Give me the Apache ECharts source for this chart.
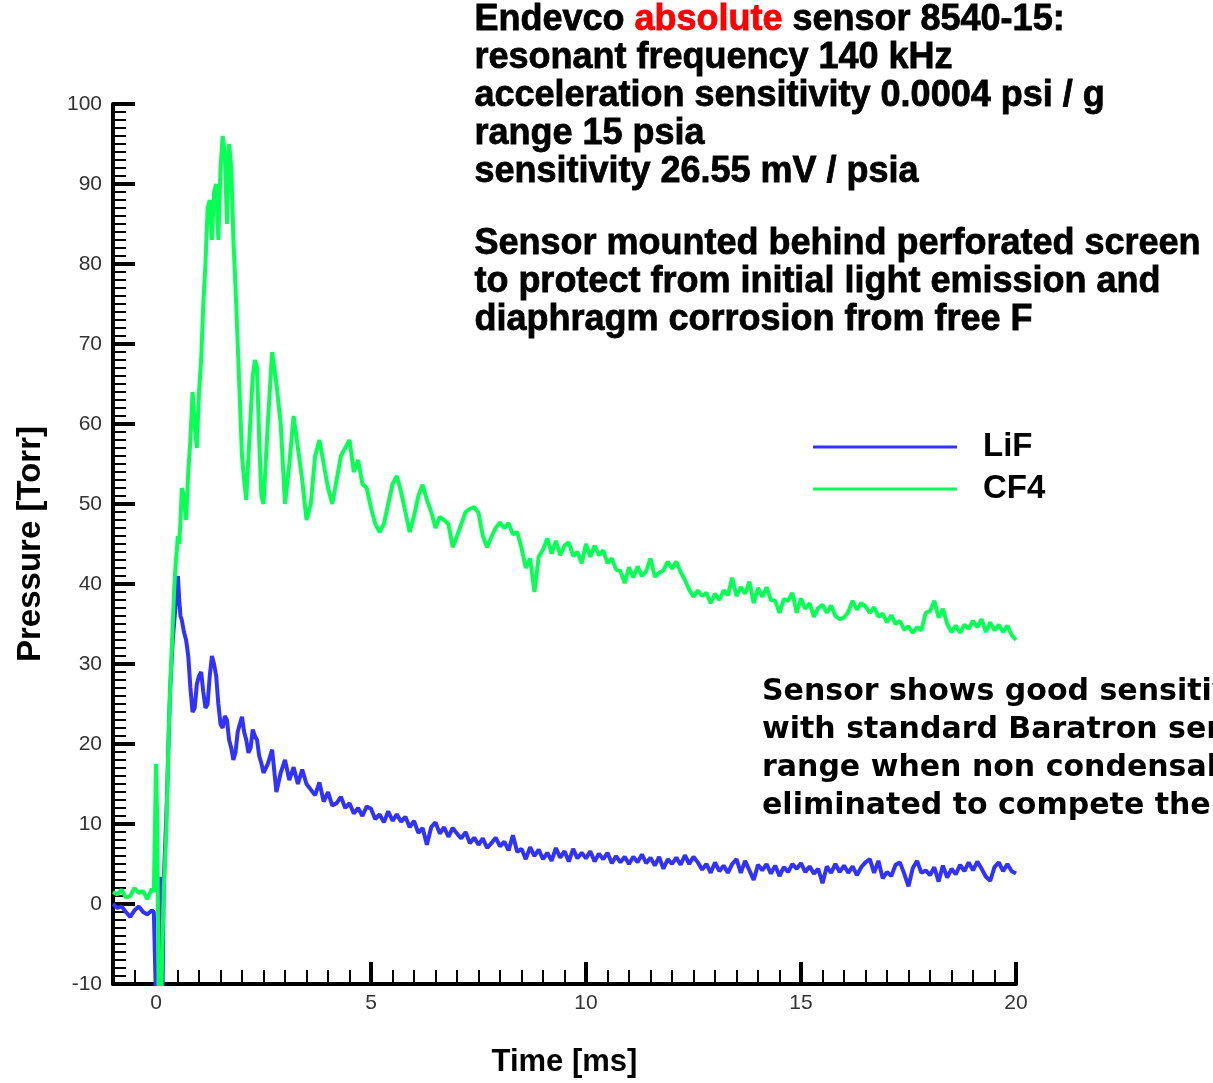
<!DOCTYPE html>
<html>
<head>
<meta charset="utf-8">
<title>Endevco 8540-15 pressure traces</title>
<script src="https://cdn.jsdelivr.net/npm/echarts@6/dist/echarts.min.js"></script>
<style>
  html, body { margin: 0; padding: 0; background: #fff; }
  #chart { width: 1213px; height: 1083px; }
</style>
</head>
<body>
<div id="chart"></div>
<script>
// time base [ms], shared by both traces (finer around the trigger)
const timeMs = [
  -1.0, -0.9, -0.8, -0.7, -0.6, -0.5, -0.4, -0.3, -0.2, -0.1,
  -0.05, 0, 0.03, 0.06, 0.09, 0.12, 0.15, 0.18, 0.21, 0.24, 0.27, 0.3, 0.33, 0.36, 0.39, 0.42, 0.45, 0.48, 0.51, 0.54, 0.57,
  0.6, 0.65, 0.7, 0.75, 0.8, 0.85, 0.9, 0.95, 1.0, 1.05, 1.1, 1.15, 1.2, 1.25, 1.3, 1.35, 1.4, 1.45, 1.5, 1.55,
  1.6, 1.65, 1.7, 1.75, 1.8, 1.85, 1.9, 1.95, 2.0, 2.05, 2.1, 2.15, 2.2, 2.25, 2.3, 2.35, 2.4, 2.45,
  2.5, 2.6, 2.7, 2.8, 2.9,
  3.0, 3.1, 3.2, 3.3, 3.4, 3.5, 3.6, 3.7, 3.8, 3.9,
  4.0, 4.1, 4.2, 4.3, 4.4, 4.5, 4.6, 4.7, 4.8, 4.9,
  5.0, 5.1, 5.2, 5.3, 5.4, 5.5, 5.6, 5.7, 5.8, 5.9,
  6.0, 6.1, 6.2, 6.3, 6.4, 6.5, 6.6, 6.7, 6.8, 6.9,
  7.0, 7.1, 7.2, 7.3, 7.4, 7.5, 7.6, 7.7, 7.8, 7.9,
  8.0, 8.1, 8.2, 8.3, 8.4, 8.5, 8.6, 8.7, 8.8, 8.9,
  9.0, 9.1, 9.2, 9.3, 9.4, 9.5, 9.6, 9.7, 9.8, 9.9,
  10.0, 10.1, 10.2, 10.3, 10.4, 10.5, 10.6, 10.7, 10.8, 10.9,
  11.0, 11.1, 11.2, 11.3, 11.4, 11.5, 11.6, 11.7, 11.8, 11.9,
  12.0, 12.1, 12.2, 12.3, 12.4, 12.5, 12.6, 12.7, 12.8, 12.9,
  13.0, 13.1, 13.2, 13.3, 13.4, 13.5, 13.6, 13.7, 13.8, 13.9,
  14.0, 14.1, 14.2, 14.3, 14.4, 14.5, 14.6, 14.7, 14.8, 14.9,
  15.0, 15.1, 15.2, 15.3, 15.4, 15.5, 15.6, 15.7, 15.8, 15.9,
  16.0, 16.1, 16.2, 16.3, 16.4, 16.5, 16.6, 16.7, 16.8, 16.9,
  17.0, 17.1, 17.2, 17.3, 17.4, 17.5, 17.6, 17.7, 17.8, 17.9,
  18.0, 18.1, 18.2, 18.3, 18.4, 18.5, 18.6, 18.7, 18.8, 18.9,
  19.0, 19.1, 19.2, 19.3, 19.4, 19.5, 19.6, 19.7, 19.8, 19.9,
  20.0
];

// LiF pressure [Torr]
const lifTorr = [
  0.0, -0.5, -0.3, -1.0, -1.6, -0.8, -0.3, -1.0, -1.3, -0.8,
  -1.0, -12, -12, -12, -12, 3.4, -12, 3, 7, 11, 16, 22, 27, 30, 33, 35, 37, 39, 41, 38, 36,
  35.5, 34, 33, 31, 27, 24, 24.5, 27.5, 28.5, 29, 26.5, 24.5, 25, 28.5, 31, 30, 28.5, 25, 22.5, 22,
  23.5, 23, 20.5, 19.5, 18, 19, 21.5, 22.5, 23.4, 21.5, 20.5, 18.9, 19.5, 21.8, 21, 20.5, 18.5, 17.6,
  16.4, 17.5, 19.3, 14, 16.4,
  18, 15.5, 17.1, 15.0, 16.8, 15.0, 14.3, 13.6, 15.2, 12.8,
  14.0, 12.3, 12.6, 13.4, 12.0, 12.6, 11.3, 12.0, 11.0, 12.2,
  11.9, 10.6, 11.2, 10.2, 11.6, 10.4, 11.2, 10.3, 10.9, 9.6,
  10.4, 8.9, 9.5, 7.4, 9.6, 10.2, 8.8, 9.6, 8.4, 9.5,
  8.8, 8.2, 9.0, 7.6, 8.3, 7.4, 8.2, 7.0, 7.6, 8.3,
  7.2, 7.8, 6.7, 8.6, 6.5, 6.9, 5.6, 7.1, 6.0, 6.8,
  5.6, 6.4, 5.4, 7.0, 5.8, 6.6, 5.3, 6.9, 5.7, 6.4,
  5.7, 6.6, 5.3, 6.3, 5.6, 6.4, 5.1, 6.0, 5.2, 5.9,
  5.0, 5.9, 5.2, 6.2, 5.1, 5.8, 4.8, 5.9, 4.4, 5.6,
  5.0, 5.8, 4.9, 6.1, 5.0, 5.9, 5.2, 4.3, 5.0, 3.9,
  5.2, 4.1, 4.8, 3.9, 5.0, 5.6, 3.9, 5.4, 4.2, 3.0,
  4.9, 4.2, 5.0, 3.8, 4.8, 3.5, 4.6, 4.0, 5.0, 4.4,
  5.1, 4.0, 4.7, 3.8, 4.4, 2.6, 4.7, 3.9, 5.0, 4.0,
  4.8, 3.9, 4.7, 3.6, 4.6, 5.2, 5.6, 3.9, 5.4, 3.2,
  4.0, 3.5, 4.9, 5.2, 3.8, 2.2, 4.5, 5.4, 3.9, 4.2,
  3.6, 4.6, 2.8, 4.8, 3.3, 4.4, 3.7, 4.9, 4.1, 5.2,
  4.2, 5.3, 4.4, 3.4, 2.9, 4.6, 5.2, 4.1, 5.0, 4.1,
  3.8
];

// CF4 pressure [Torr]
const cf4Torr = [
  1.5, 1.2, 1.8, 0.8, 1.0, 2.0, 1.4, 1.6, 0.6, 1.9,
  1.5, 17.5, 10, -12, -12, -12, -5, 2, 5, 9, 16, 22, 27, 31, 35, 39, 42, 44, 46, 45, 48,
  52, 51, 48, 54, 58, 64, 60, 57, 64, 68, 75, 80, 87, 88, 83, 89, 90, 83, 92, 96,
  94, 85, 95, 92, 83, 77, 70, 63, 56, 53, 50.5, 56, 61, 66, 68, 67, 58, 51,
  50, 60, 69, 65, 60,
  50, 55, 61, 57, 53, 48, 50, 56, 58, 55,
  52, 50, 53, 56, 57, 58, 54, 55.5, 52.5, 52,
  49.5, 47.5, 46.5, 47.5, 50, 52.5, 53.5, 51.5, 49, 46.5,
  48.5, 51, 52.4, 50.5, 49, 47, 48.4, 48, 47.5, 44.6,
  46, 47.5, 49, 49.4, 49.6, 48.9, 46, 44.6, 45.9, 47,
  47.7, 47.0, 47.6, 46.2, 46.5, 44.5, 42, 43.2, 39, 43.4,
  44.3, 45.7, 43.8, 45.4, 43.6, 44.8, 45.2, 43.5, 44.0, 42.6,
  45, 43.4, 44.8, 43.6, 44.2, 42.6, 43.2, 41.8, 41.6, 40.1,
  42.1, 40.8, 42.2, 41.0, 41.6, 43.2, 40.9, 41.4, 41.7, 42.8,
  41.9, 42.8, 41.5, 40.5, 39.3, 38.4, 39.2, 38.5, 38.9, 37.6,
  38.8, 38.0, 39.2, 38.6, 40.8, 38.5, 39.6, 38.8, 40.3, 37.6,
  39.5, 38.4, 39.6, 38.0, 37.9, 36.4, 38.1, 37.9, 38.9, 36.4,
  38.2, 36.9, 37.6, 35.9, 37.0, 37.4, 36.4, 37.3, 36.0, 35.6,
  35.8, 36.5, 37.9, 36.8, 37.6, 37.2, 36.4, 37.1, 35.9, 36.3,
  35.2, 36.1, 35.0, 35.4, 34.3, 34.7, 33.9, 34.6, 34.2, 36.4,
  36.6, 37.9, 35.8, 36.9, 35.0, 34.0, 34.8, 33.9, 34.9, 34.4,
  35.4, 34.6, 35.6, 34.0, 35.2, 34.2, 34.9, 34.0, 34.8, 33.6,
  33
];

const timeLabels = [0, 5, 10, 15, 20];
const seriesNames = ['LiF', 'CF4'];
const seriesColors = ['#3232ff', '#08ff55'];

const pairs = (vals) => timeMs.map((t, i) => [t, vals[i]]);

const chart = echarts.init(document.getElementById('chart'), null, { renderer: 'canvas' });

const labelFont = { fontFamily: 'Liberation Sans', fontSize: 21, color: '#333' };
const boldFont = { fontFamily: 'Liberation Sans', fontWeight: 'bold', color: '#000' };
// heavy caption text (bold plus a thin outline)
const heavy = (fill) => ({
  fontFamily: 'Liberation Sans', fontWeight: 'bold', fontSize: 36, lineHeight: 38,
  fill: fill, stroke: fill, lineWidth: 0.8
});

const option = {
  animation: false,
  backgroundColor: '#fff',
  grid: { left: 113, right: 197, top: 104, bottom: 99, containLabel: false },
  legend: {
    data: seriesNames,
    orient: 'vertical',
    left: 813,
    top: 426,
    padding: 0,
    itemGap: 0,
    itemWidth: 144,
    itemHeight: 3,
    icon: 'rect',
    textStyle: { ...boldFont, fontSize: 33, lineHeight: 42, padding: [0, 0, 0, 21] }
  },
  xAxis: [
    {
      type: 'value',
      min: -1,
      max: 20,
      interval: 0.5,
      name: 'Time [ms]',
      nameLocation: 'middle',
      nameGap: 63,
      nameTextStyle: { ...boldFont, fontSize: 31 },
      splitLine: { show: false },
      axisLine: { onZero: false, lineStyle: { color: '#000', width: 4 } },
      axisTick: { inside: true, length: 14, lineStyle: { color: '#000', width: 2 } },
      axisLabel: { ...labelFont, margin: 9, customValues: timeLabels }
    },
    {
      // long ticks at the labelled times
      type: 'value',
      min: -1,
      max: 20,
      position: 'bottom',
      splitLine: { show: false },
      axisLine: { show: false, onZero: false },
      axisLabel: { show: false },
      axisTick: { inside: true, length: 22, customValues: timeLabels, lineStyle: { color: '#000', width: 4 } }
    }
  ],
  yAxis: {
    type: 'value',
    min: -10,
    max: 100,
    interval: 10,
    name: 'Pressure [Torr]',
    nameLocation: 'middle',
    nameGap: 66,
    nameTextStyle: { ...boldFont, fontSize: 33 },
    splitLine: { show: false },
    axisLine: { onZero: false, lineStyle: { color: '#000', width: 4 } },
    axisTick: { inside: true, length: 22, lineStyle: { color: '#000', width: 4 } },
    minorTick: { show: true, splitNumber: 10, length: 13, lineStyle: { color: '#000', width: 2 } },
    axisLabel: { ...labelFont, margin: 11 }
  },
  series: [
    {
      name: seriesNames[0],
      type: 'line',
      data: pairs(lifTorr),
      showSymbol: false,
      clip: true,
      color: seriesColors[0],
      lineStyle: { width: 4, color: seriesColors[0] }
    },
    {
      name: seriesNames[1],
      type: 'line',
      data: pairs(cf4Torr),
      showSymbol: false,
      clip: true,
      color: seriesColors[1],
      lineStyle: { width: 4, color: seriesColors[1] }
    }
  ],
  graphic: [
    {
      type: 'text',
      left: 474,
      top: 1,
      style: {
        text: '{k|Endevco }{r|absolute}{k| sensor 8540-15:}\n' +
              '{k|resonant frequency 140 kHz}\n' +
              '{k|acceleration sensitivity 0.0004 psi / g}\n' +
              '{k|range 15 psia}\n' +
              '{k|sensitivity 26.55 mV / psia}',
        ...heavy('#000'),
        rich: { k: heavy('#000'), r: heavy('#ff0000') }
      }
    },
    {
      type: 'text',
      left: 474,
      top: 225,
      style: {
        text: 'Sensor mounted behind perforated screen\nto protect from initial light emission and\ndiaphragm corrosion from free F',
        ...heavy('#000')
      }
    },
    {
      type: 'text',
      left: 762,
      top: 673,
      style: {
        text: 'Sensor shows good sensitivity\nwith standard Baratron sensor\nrange when non condensables\neliminated to compete the',
        fontFamily: 'DejaVu Sans', fontWeight: 'bold', fontSize: 30, lineHeight: 38, fill: '#000'
      }
    }
  ]
};

chart.setOption(option);
window.addEventListener('resize', () => chart.resize());
</script>
</body>
</html>
